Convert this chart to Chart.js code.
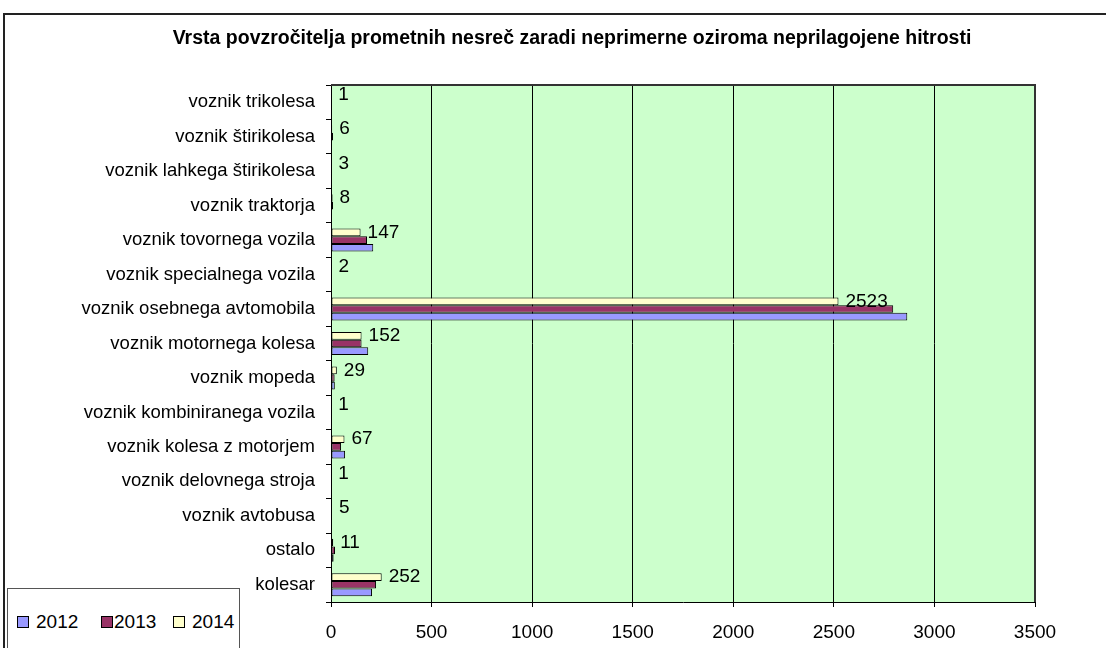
<!DOCTYPE html>
<html>
<head>
<meta charset="utf-8">
<script src="https://cdn.jsdelivr.net/npm/chart.js@4"></script>
<style>
body{margin:0;background:#fff;}
#wrap{position:relative;width:1106px;height:648px;overflow:hidden;}
#legend{position:absolute;left:7px;top:588px;width:231px;height:80px;border:1px solid #555;background:#fff;font-family:"Liberation Sans",Arial,sans-serif;font-size:19px;color:#000;}
#legend .box{position:absolute;top:27px;width:10px;height:10px;border:1px solid #000;}
#legend .txt{position:absolute;top:23px;line-height:20px;}
</style>
</head>
<body>
<div id="wrap">
<canvas id="chart" width="1106" height="648"></canvas>
<div id="legend"></div>
</div>
<script>
const categories = [
    "voznik trikolesa",
    "voznik štirikolesa",
    "voznik lahkega štirikolesa",
    "voznik traktorja",
    "voznik tovornega vozila",
    "voznik specialnega vozila",
    "voznik osebnega avtomobila",
    "voznik motornega kolesa",
    "voznik mopeda",
    "voznik kombiniranega vozila",
    "voznik kolesa z motorjem",
    "voznik delovnega stroja",
    "voznik avtobusa",
    "ostalo",
    "kolesar"
];
const values2012 = [1, 3, 2, 4, 210, 1, 2865, 185, 19, 0, 70, 2, 4, 13, 204];
const values2013 = [2, 10, 2, 10, 179, 1, 2795, 152, 18, 1, 50, 1, 4, 20, 224];
const values2014 = [1, 6, 3, 8, 147, 2, 2523, 152, 29, 1, 67, 1, 5, 11, 252];
const xTicks = [0, 500, 1000, 1500, 2000, 2500, 3000, 3500];

const years = ["2012", "2013", "2014"];
const colors = ["#9999FF", "#993366", "#FFFFCC"];
const font = '"Liberation Sans", Arial, sans-serif';
const titleText = 'Vrsta povzročitelja prometnih nesreč zaradi neprimerne oziroma neprilagojene hitrosti';

// plot background, outer frame, title
const plotBg = {
    id: 'plotBg',
    beforeDraw(chart){
        const {ctx, chartArea: a} = chart;
        ctx.save();
        ctx.fillStyle = "#fff";
        ctx.fillRect(0, 0, chart.width, chart.height);
        ctx.strokeStyle = "#222";
        ctx.lineWidth = 2;
        ctx.strokeRect(4, 14, chart.width + 20, chart.height + 20);
        ctx.fillStyle = "#CCFFCC";
        ctx.fillRect(a.left, a.top, a.right - a.left, a.bottom - a.top);
        ctx.fillStyle = "#000";
        ctx.font = "bold 19.5px " + font;
        ctx.textAlign = "center";
        ctx.textBaseline = "middle";
        ctx.fillText(titleText, 572, 39);
        ctx.restore();
    },
    afterDraw(chart){
        const {ctx, chartArea: a} = chart;
        ctx.save();
        ctx.strokeStyle = "#333";
        ctx.lineWidth = 2;
        ctx.beginPath();
        ctx.moveTo(a.left, a.top);
        ctx.lineTo(a.right, a.top);
        ctx.lineTo(a.right, a.bottom);
        ctx.stroke();
        ctx.restore();
    }
};

// value labels for 2014 only
const valueLabels = {
    id: 'valueLabels',
    afterDatasetsDraw(chart){
        const ctx = chart.ctx;
        const meta = chart.getDatasetMeta(0);
        ctx.save();
        ctx.font = "19px " + font;
        ctx.fillStyle = "#000";
        ctx.textBaseline = "middle";
        ctx.textAlign = "left";
        meta.data.forEach((bar, i) => {
            ctx.fillText(String(values2014[i]), bar.x + 7, bar.y);
        });
        ctx.restore();
    }
};

new Chart(document.querySelector('#chart'), {
    type: 'bar',
    data: {
        labels: categories,
        datasets: [
            {label: '2014', data: values2014, backgroundColor: colors[2]},
            {label: '2013', data: values2013, backgroundColor: colors[1]},
            {label: '2012', data: values2012, backgroundColor: colors[0]}
        ].map(d => Object.assign(d, {
            borderColor: "#000",
            borderWidth: 1,
            borderSkipped: false,
            categoryPercentage: 0.667,
            barPercentage: 1
        }))
    },
    options: {
        indexAxis: 'y',
        responsive: false,
        animation: false,
        layout: {padding: {left: 5, right: 71, top: 85, bottom: 0}},
        plugins: {
            legend: {display: false},
            tooltip: {enabled: false},
            title: {display: false}
        },
        scales: {
            x: {
                min: 0,
                max: 3500,
                afterBuildTicks: scale => { scale.ticks = xTicks.map(v => ({value: v})); },
                afterFit: scale => { scale.height = 46; },
                grid: {color: "#000", lineWidth: 1, tickLength: 5, drawTicks: true},
                border: {color: "#000", width: 1},
                ticks: {color: "#000", font: {family: font, size: 19}, padding: 14, maxRotation: 0,
                    callback: v => String(v)}
            },
            y: {
                afterFit: scale => { scale.width = 326; },
                grid: {color: "#000", drawOnChartArea: false, tickLength: 5, offset: true},
                border: {color: "#000", width: 1},
                ticks: {color: "#000", font: {family: font, size: 18.5}, padding: 11}
            }
        }
    },
    plugins: [plotBg, valueLabels]
});

// legend
const lg = document.querySelector('#legend');
const boxX = [9, 93, 165];
const txtX = [28, 106, 184];
years.forEach((y, i) => {
    lg.innerHTML += `<div class="box" style="left:${boxX[i]}px;background:${colors[i]}"></div><div class="txt" style="left:${txtX[i]}px">${y}</div>`;
});
</script>
</body>
</html>
